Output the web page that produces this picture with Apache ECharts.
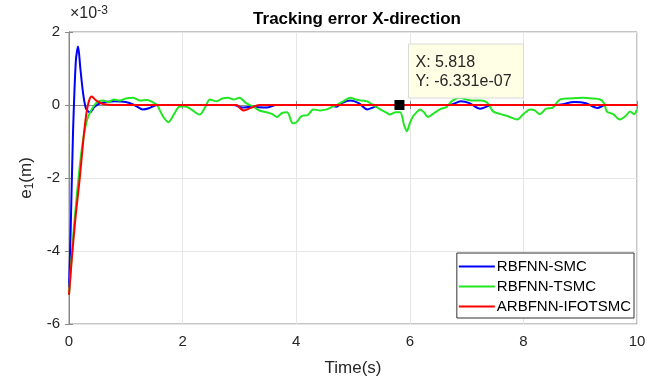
<!DOCTYPE html>
<html><head><meta charset="utf-8">
<script src="https://cdn.jsdelivr.net/npm/echarts@6/dist/echarts.min.js"></script>
<style>html,body{margin:0;padding:0;background:#fff}#c{width:658px;height:382px}</style>
</head><body><div id="c"></div>
<script>
// values in units of 1e-3 m
const blueT = [0,0.03,0.07,0.12,0.16,0.2,0.25,0.3,0.37,0.45,0.55,0.8,1.0,1.15,1.3,1.42,1.55,2.9,3.05,3.2,3.48,3.65,4.6,4.7,4.8,4.95,5.1,5.25,5.38,5.45,6.7,6.9,7.05,7.24,7.38,7.45,8.6,8.9,9.1,9.3,9.45,10];
const blueY = [-5.0,-3.4,-0.8,1.2,1.6,1.0,0.3,-0.1,-0.2,-0.05,0.05,0.1,0.08,0.0,-0.12,-0.08,0.0,0.0,-0.07,-0.05,-0.07,0.0,0.0,-0.05,0.05,0.12,0.05,-0.12,-0.05,0.0,0.0,0.1,0.05,-0.1,-0.03,0.0,0.0,0.08,0.05,-0.08,0.0,0.0];
const greenT = [0,0.05,0.1,0.19,0.25,0.32,0.4,0.49,0.6,0.7,0.78,0.9,1.0,1.13,1.25,1.38,1.48,1.55,1.65,1.75,1.85,1.95,2.05,2.15,2.3,2.4,2.48,2.6,2.7,2.8,2.9,3.0,3.12,3.24,3.35,3.48,3.58,3.66,3.75,3.84,3.94,4.0,4.1,4.2,4.3,4.42,4.54,4.63,4.72,4.85,4.95,5.05,5.15,5.25,5.35,5.48,5.58,5.65,5.75,5.83,5.9,5.95,6.0,6.06,6.12,6.18,6.25,6.32,6.4,6.53,6.65,6.75,6.88,7.0,7.12,7.25,7.36,7.47,7.6,7.75,7.89,8.0,8.12,8.2,8.29,8.4,8.52,8.64,8.8,9.05,9.2,9.35,9.42,9.47,9.58,9.7,9.8,9.88,9.95,10.0];
const greenY = [-5.2,-4.1,-3.1,-1.67,-0.94,-0.4,-0.12,0.07,0.12,0.08,0.15,0.12,0.18,0.2,0.12,0.14,0.07,0.0,-0.3,-0.47,-0.25,-0.04,-0.04,-0.12,-0.26,-0.05,0.15,0.1,0.18,0.2,0.15,0.2,0.05,-0.04,-0.15,-0.2,-0.25,-0.33,-0.22,-0.2,-0.5,-0.48,-0.3,-0.28,-0.12,-0.15,-0.12,-0.05,0.0,0.12,0.2,0.15,0.12,0.1,0.0,-0.12,-0.2,-0.26,-0.2,-0.2,-0.55,-0.72,-0.5,-0.3,-0.2,-0.12,-0.2,-0.33,-0.25,-0.12,-0.05,0.12,0.2,0.15,0.12,0.12,0.07,-0.18,-0.25,-0.32,-0.4,-0.25,-0.12,-0.15,-0.25,-0.1,-0.07,0.15,0.18,0.2,0.18,0.15,0.05,-0.18,-0.25,-0.4,-0.3,-0.18,-0.25,-0.12];
const redT = [0,0.05,0.12,0.19,0.25,0.3,0.35,0.4,0.48,0.6,0.8,2.95,3.02,3.08,3.2,3.35,10];
const redY = [-5.2,-4.2,-3.0,-2.0,-1.0,-0.3,0.1,0.23,0.12,0.03,0.0,0.0,-0.1,-0.15,-0.08,0.0,0.0];
const seriesNames = ['RBFNN-SMC','RBFNN-TSMC','ARBFNN-IFOTSMC'];
const xTicks = [0,2,4,6,8,10];
const yTicks = [-6,-4,-2,0,2];
const tipX = 5.818, tipY = -6.331e-7;

const zip = (t, y) => t.map((v, i) => [v, y[i]]);
const font = 'Liberation Sans, Arial, Helvetica, sans-serif';
const txt = '#262626';
const axisCol = '#8a8a8a';
const chart = echarts.init(document.getElementById('c'));
const baseX = {type:'value', min:xTicks[0], max:xTicks[xTicks.length-1], interval:2};
const baseY = {type:'value', min:yTicks[0], max:yTicks[yTicks.length-1], interval:2};
chart.setOption({
  animation:false,
  backgroundColor:'#fff',
  title:{text:'Tracking error X-direction', left:352, top:6, textAlign:'center',
    textStyle:{fontFamily:font, fontSize:17, fontWeight:'bold', color:'#000'}},
  grid:{left:69, right:21, top:32, bottom:56, show:true, borderColor:axisCol, borderWidth:1},
  legend:{orient:'vertical', right:24, bottom:64, data:seriesNames, icon:'path://M0,0H36V2H0Z',
    itemWidth:36, itemHeight:2, itemGap:5, padding:[6,3,4,2],
    backgroundColor:'#fff', borderColor:'#333', borderWidth:1,
    textStyle:{fontFamily:font, fontSize:15, color:'#000', padding:[0,0,0,-3]}},
  xAxis:[Object.assign({}, baseX, {
      name:'Time(s)', nameLocation:'middle', nameGap:36,
      nameTextStyle:{fontFamily:font, fontSize:17, color:txt},
      axisLine:{lineStyle:{color:axisCol}}, axisTick:{inside:true, length:4, lineStyle:{color:axisCol}},
      axisLabel:{fontFamily:font, fontSize:15, color:txt, margin:10},
      splitLine:{lineStyle:{color:'#e6e6e6'}}}),
    Object.assign({}, baseX, {position:'top', axisLine:{lineStyle:{color:axisCol}},
      axisTick:{inside:true, length:4, lineStyle:{color:axisCol}}, axisLabel:{show:false}, splitLine:{show:false}})],
  yAxis:[Object.assign({}, baseY, {
      name:'{a|e}{s|1}{a|(m)}', nameLocation:'middle', nameGap:29, nameRotate:90,
      nameTextStyle:{rich:{a:{fontFamily:font, fontSize:17, color:txt}, s:{fontFamily:font, fontSize:12, color:txt, verticalAlign:'bottom', padding:[6,0,0,0]}}},
      axisLine:{lineStyle:{color:axisCol}}, axisTick:{inside:true, length:4, lineStyle:{color:axisCol}},
      axisLabel:{fontFamily:font, fontSize:15, color:txt, margin:9},
      splitLine:{lineStyle:{color:'#e6e6e6'}}}),
    Object.assign({}, baseY, {position:'right', axisLine:{lineStyle:{color:axisCol}},
      axisTick:{inside:true, length:4, lineStyle:{color:axisCol}}, axisLabel:{show:false}, splitLine:{show:false}})],
  series:[
    {name:seriesNames[0], type:'line', data:zip(blueT, blueY), symbol:'none', smooth:0.3, color:'#0000ff', lineStyle:{width:2}},
    {name:seriesNames[1], type:'line', data:zip(greenT, greenY), symbol:'none', smooth:0.3, color:'#22e622', lineStyle:{width:2}},
    {name:seriesNames[2], type:'line', data:zip(redT, redY), symbol:'none', smooth:0.3, color:'#ff0000', lineStyle:{width:2},
      markPoint:{symbol:'rect', symbolSize:10, itemStyle:{color:'#000'}, label:{show:false},
        data:[{coord:[tipX, tipY*1000]}]}}
  ]
});
const p = chart.convertToPixel({gridIndex:0}, [tipX, tipY*1000]);
chart.setOption({graphic:[
  {type:'text', left:70, top:5, style:{rich:{a:{fontFamily:font, fontSize:16, fill:txt}, s:{fontFamily:font, fontSize:12, fill:txt, verticalAlign:'top', padding:[0,0,6,0]}}, text:'{a|×10}{s|-3}'}},
  {type:'rect', x:p[0]+9, y:p[1]-61, shape:{width:115, height:54}, style:{fill:'#ffffe6', stroke:'#d9d9d9', lineWidth:1}, z:100},
  {type:'text', x:p[0]+16, y:p[1]-52, style:{text:'X: 5.818\nY: -6.331e-07', fontFamily:font, fontSize:16, lineHeight:19, fill:'#262626'}, z:101}
]});
</script></body></html>
